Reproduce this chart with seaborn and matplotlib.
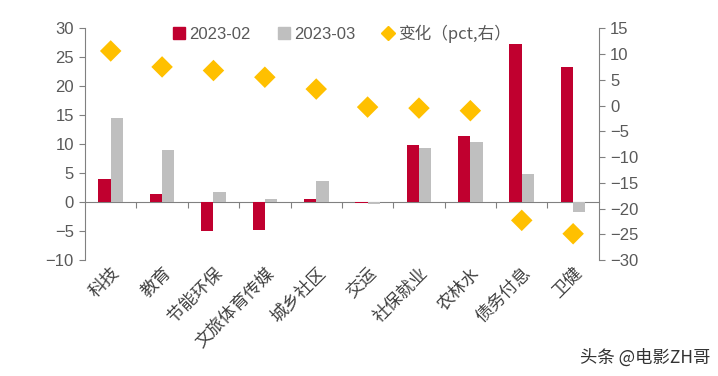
import pandas as pd
import matplotlib.pyplot as plt
import seaborn as sns
from matplotlib.lines import Line2D

# 数据
categories = ["科技", "教育", "节能环保", "文旅体育传媒", "城乡社区",
              "交运", "社保就业", "农林水", "债务付息", "卫健"]
feb_values = [4.0, 1.4, -5.0, -4.8, 0.6, -0.2, 9.8, 11.4, 27.3, 23.3]
mar_values = [14.5, 9.0, 1.8, 0.6, 3.7, -0.4, 9.4, 10.3, 4.9, -1.7]
change_values = [10.6, 7.5, 6.8, 5.5, 3.2, -0.3, -0.5, -1.0, -22.3, -24.9]
series_names = ["2023-02", "2023-03"]
change_name = "变化（pct,右）"

RED = "#C0002F"
GRAY = "#BFBFBF"
GOLD = "#FFC000"
TXT = "#595959"
AX = "#808080"

bars = pd.DataFrame({
    "cat": categories * 2,
    "series": [series_names[0]] * len(categories) + [series_names[1]] * len(categories),
    "value": feb_values + mar_values,
})
pts = pd.DataFrame({"cat": categories, "change": change_values})

sns.set_style("white")
plt.rcParams["font.family"] = ["Liberation Sans", "Noto Sans CJK SC", "DejaVu Sans"]

fig = plt.figure(figsize=(7.18, 3.76), dpi=100)
ax = fig.add_axes([0.1184, 0.3085, 0.7156, 0.6162])

sns.barplot(data=bars, x="cat", y="value", hue="series",
            palette=[RED, GRAY], width=0.48, gap=0, saturation=1,
            linewidth=0, legend=False, ax=ax)

ax2 = ax.twinx()
sns.scatterplot(data=pts, x="cat", y="change", marker="D", s=120,
                color=GOLD, edgecolor="none", legend=False, ax=ax2)

ax.set_xlim(-0.5, len(categories) - 0.5)
ax.set_ylim(-10, 30)
ax.set_yticks(range(-10, 31, 5))
ax2.set_ylim(-30, 15)
ax2.set_yticks(range(-30, 16, 5))

for a in (ax, ax2):
    a.set_xlabel("")
    a.set_ylabel("")
    for s in ("top", "bottom"):
        a.spines[s].set_visible(False)
ax.spines["right"].set_visible(False)
ax2.spines["left"].set_visible(False)
ax.spines["left"].set_color(AX)
ax2.spines["right"].set_color(AX)

ax.tick_params(axis="y", direction="out", length=4, color=AX, labelsize=12,
               labelcolor=TXT, left=True, pad=4)
ax2.tick_params(axis="y", direction="out", length=4, color=AX, labelsize=12,
                labelcolor=TXT, right=True, pad=4)
ax.tick_params(axis="x", length=0, pad=3)
ax2.tick_params(axis="x", bottom=False, labelbottom=False)

ax.set_xticks(range(len(categories)))
ax.set_xticklabels(categories, rotation=45, ha="right", va="top",
                   rotation_mode="anchor", color="#404040", fontsize=12.5,
                   family=["Noto Sans CJK SC", "DejaVu Sans"])

# 零轴及分隔刻度
zero_ax = ax.secondary_xaxis(0.25)
zero_ax.set_xticks([i + 0.5 for i in range(len(categories) - 1)])
zero_ax.tick_params(axis="x", direction="out", length=4, color=AX, labelbottom=False)
zero_ax.spines["bottom"].set_color(AX)

handles = [
    Line2D([], [], marker="s", color=RED, linestyle="none", markersize=8),
    Line2D([], [], marker="s", color=GRAY, linestyle="none", markersize=8),
    Line2D([], [], marker="D", color=GOLD, linestyle="none", markersize=7),
]
leg = ax2.legend(handles, series_names + [change_name], loc="center",
                 bbox_to_anchor=(0.5, 0.975), ncol=3, frameon=False,
                 fontsize=12, handlelength=0.8, handletextpad=0.2,
                 columnspacing=1.6, borderaxespad=0)
for t in leg.get_texts():
    t.set_color(TXT)
leg.get_texts()[2].set_family(["Noto Sans CJK SC", "DejaVu Sans"])

fig.text(0.99, 0.05, "头条 @电影ZH哥", ha="right", va="center", fontsize=12.5,
         color="#333333", family=["Noto Sans CJK SC", "DejaVu Sans"])

fig.savefig("out.png", dpi=100, facecolor="white")
